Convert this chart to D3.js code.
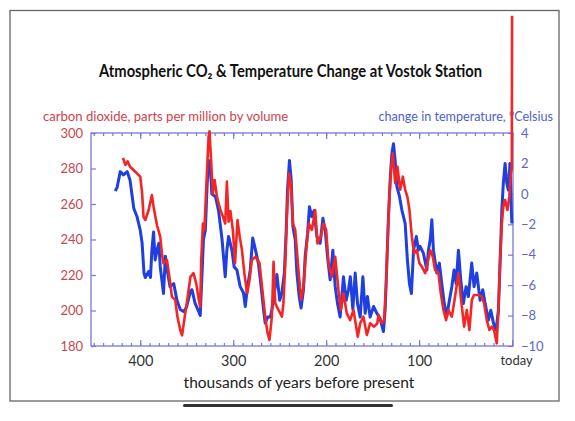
<!DOCTYPE html>
<html>
<head>
<meta charset="utf-8">
<script src="https://cdn.jsdelivr.net/npm/d3@7"></script>
<style>
  body { margin: 0; background: #fff; }
  svg { display: block; }
</style>
</head>
<body>
<script>
// thousands of years before present, CO2 in ppmv
const co2Age = [418.6,416,413.6,411,405,400,398,396.5,394.6,391,387.5,385.7,382,378.5,376.7,375,371.3,367.7,366,362.4,360,357,355,352.7,350,346,342.7,339.8,337,335.5,334.4,332.6,331,328.3,326.5,325.5,324,322,320,317.5,313.8,311,308.6,306.8,305,303,300.4,298,295.4,293,290.6,288,285,282.5,280,276,271.7,269,265.6,263,261,258.4,256.6,254.8,251.3,247.6,246,244,242.3,240,238,235.8,233.3,229.8,227,224.4,221.5,218.6,215.4,211.8,209.4,205.7,203,200,197.5,193.9,190.3,186.8,184.2,181.4,177.8,174.2,170.6,166,163.4,159.9,156.2,152.7,148.4,145,143.7,140,137.6,135.5,134,132,130,128.3,125.8,123.3,120.4,117.5,115,112.6,110.4,107.8,105.4,102.5,99.7,97,93.5,91,88,85.3,82.8,79.2,76.7,73.8,71,68.5,64.8,61.3,57.7,55.2,51.6,48.7,45.9,43.3,40.9,36.2,32.6,30.1,27.2,24.4,21.8,19.4,16.5,14.7,12.9,11,9.4,7.5,5,2.9,1.4,0.7,0.3,0];
const co2Ppm = [286,282,284,281,278,275.4,266,252.8,251,256.6,265,258.5,248,241.6,232,226.6,228.5,215.3,207.8,206,196.5,189,186,194.6,204,219,221,215.3,206,202,228.5,249,245.4,277.3,298,301,286.6,266,273.5,264,256.6,252.8,249,272.6,250,256,245.4,226.6,251,241.6,234,221,209.7,217,228.5,230.3,226.6,213.4,196.5,187.2,183.4,196.5,227.5,204,200.3,196.5,204,226.6,252.8,277.3,271.7,249,245.4,222.8,206,213.4,234,249,245.4,256.6,237.8,241.6,249,245.4,226.6,219,230.3,211.6,200.3,209.7,198.4,194.6,200.3,185.2,192.8,196.5,186.2,192.8,190.9,192.8,197.5,192.8,194.6,215.3,237.9,264,281,288.6,271.7,281,268,275.4,268,264,256.6,241.6,232.2,234,226.6,224.7,221,226.6,234,230.3,222.8,221,209.7,200.3,194.6,200.3,196.5,207.8,221,207.8,190.9,200.3,189,206,208.7,208.7,207.8,204,194.6,189,190.9,189,181.5,200.3,228.5,249,258.5,262.3,256.6,264,277.3,279,280,366];

// thousands of years before present, temperature change in degrees C
const tempAge = [427,425,421.5,418,414,411,407,403.5,400,398,396,394.6,391,389,387.5,385.7,384,382,380,378.5,375,373,371,368,364,360.5,357,353,350,346,344.4,341,337,335.5,333.7,332,330,328,326.5,324.7,323,319,315.8,312,308.6,306.8,305,301.4,299,296,292.5,289,287,285,281.7,279,276,272.8,270,267.4,265.6,263,260,258.4,254.8,253,250,247.6,245,243,241.6,239.5,237.6,235.8,233.3,231.5,229,227,224.4,222.6,220,218,215.4,213,210,206.5,203.5,201,198.6,195.7,192.8,190.3,187.8,185,181.4,178.5,176,174,171.3,168.8,166.3,163.4,160.5,158,155.6,152.7,149,145.5,142,138.4,136.5,134.7,133,131,129.4,127.6,125.8,124,121,118.6,115,112.6,110.4,108.3,106,103,100.8,99,95.4,91.7,90,88,86.3,84.6,81,78.2,75.6,73,70.2,67.4,64.8,62.4,60.2,57.7,55.2,52.4,49.5,47,43.4,40.9,38,34.4,31.5,29,25.5,22.9,20,17.2,14.7,12.9,11,9.4,7.5,5.7,4,2.2,0.8,0.2];
const tempC = [0.19,0.4,1.46,1.25,1.46,0.9,-0.95,-1.5,-2.4,-3.25,-5.2,-5.5,-5.1,-5.5,-3.7,-2.5,-4.35,-3.7,-3.25,-4.8,-6.55,-4.1,-5.0,-6.1,-5.9,-7.0,-7.6,-7.75,-7.4,-6.4,-6.3,-7.2,-7.75,-8.0,-5.45,-3.0,-2.4,0.7,2.2,1.8,0.0,-0.2,-1.1,-3.0,-5.45,-3.7,-2.8,-3.7,-4.8,-5.0,-6.1,-6.5,-7.4,-6.3,-5.0,-2.9,-3.7,-4.6,-6.1,-7.6,-8.5,-8.1,-8.1,-7.6,-6.1,-5.3,-7.0,-6.5,-5.2,-2.4,0.25,2.2,0.9,-2.15,-3.0,-5.2,-6.75,-7.5,-6.3,-4.1,-2.6,-0.85,-1.5,-1.1,-2.8,-3.25,-1.6,-2.4,-4.1,-5.65,-3.7,-6.1,-7.2,-8.1,-5.45,-7.0,-6.3,-5.45,-7.6,-5.2,-7.2,-8.1,-5.45,-7.85,-6.75,-8.1,-7.4,-7.85,-8.2,-9.05,-7.6,-4.55,-1.5,1.1,2.6,3.3,2.2,0.5,-0.2,-1.05,-1.95,-4.35,-5.9,-6.55,-3.7,-2.8,-3.7,-3.45,-3.9,-5.0,-3.7,-3.0,-1.7,-3.7,-5.2,-4.55,-5.9,-7.2,-8.05,-7.0,-6.1,-5.0,-5.9,-3.7,-5.65,-7.2,-6.1,-6.75,-4.55,-6.1,-5.2,-7.0,-6.3,-7.2,-8.3,-7.65,-8.5,-8.95,-7.65,-4.55,-1.05,0.7,2.0,0.7,0.25,2.0,-1.05,-1.95];

const co2Ticks = [180, 200, 220, 240, 260, 280, 300];
const tempTicks = [-10, -8, -6, -4, -2, 0, 2, 4];
const ageLabels = [400, 300, 200, 100, 0];

const width = 575, height = 421;
const margin = {top: 133, right: 62, bottom: 75, left: 91};

const svg = d3.select("body").append("svg")
    .attr("width", width)
    .attr("height", height);

// outer frame
svg.append("rect")
    .attr("x", 10).attr("y", 10.5)
    .attr("width", 549).attr("height", 390.5)
    .attr("fill", "#fff")
    .attr("stroke", "#666")
    .attr("stroke-width", 1.3);

svg.append("rect")
    .attr("x", 183).attr("y", 404)
    .attr("width", 210).attr("height", 3)
    .attr("rx", 1.5)
    .attr("fill", "#333");

const x = d3.scaleLinear([453, -1], [margin.left, width - margin.right]);
const yCo2 = d3.scaleLinear([180, 300], [height - margin.bottom, margin.top]);
const yTemp = d3.scaleLinear([-10, 4], [height - margin.bottom, margin.top]);

const axisColor = "#7878dc";

// title (squeezed to look like a condensed face)
svg.append("text")
    .attr("x", 290.5)
    .attr("y", 77)
    .attr("text-anchor", "middle")
    .attr("font-family", "Lato, sans-serif")
    .attr("font-weight", "bold")
    .attr("font-size", 16.5)
    .attr("textLength", 383)
    .attr("lengthAdjust", "spacingAndGlyphs")
    .attr("fill", "#111")
    .text("Atmospheric CO₂ & Temperature Change at Vostok Station");

svg.append("text")
    .attr("x", 43).attr("y", 121)
    .attr("font-family", "Lato, sans-serif")
    .attr("font-size", 13.1)
    .attr("fill", "#d2414c")
    .text("carbon dioxide, parts per million by volume");

svg.append("text")
    .attr("x", 553).attr("y", 121)
    .attr("text-anchor", "end")
    .attr("font-family", "Lato, sans-serif")
    .attr("font-size", 12.6)
    .attr("fill", "#4e5fcf")
    .text("change in temperature, °Celsius");

// axes
const plotH = height - margin.bottom - margin.top;
const styleAxis = g => {
  g.select(".domain").remove();
  g.selectAll(".tick line").attr("stroke", axisColor).attr("stroke-width", 1.2);
};

svg.append("g")
    .attr("transform", `translate(0,${height - margin.bottom})`)
    .call(d3.axisBottom(x).tickValues(d3.range(0, 451, 10)).tickSize(-3).tickFormat(""))
    .call(styleAxis);

svg.append("g")
    .attr("transform", `translate(0,${margin.top})`)
    .call(d3.axisTop(x).tickValues(d3.range(0, 451, 10)).tickSize(-3).tickFormat(""))
    .call(styleAxis);

svg.append("g")
    .attr("transform", `translate(0,${margin.top})`)
    .call(d3.axisTop(x).tickValues(ageLabels).tickSize(-6).tickFormat(""))
    .call(styleAxis);

svg.append("g")
    .attr("transform", `translate(0,${height - margin.bottom})`)
    .call(d3.axisBottom(x).tickValues(ageLabels).tickSize(-6).tickPadding(10)
      .tickFormat(d => d === 0 ? "today" : d))
    .call(styleAxis)
    .call(g => g.selectAll(".tick text")
      .attr("font-family", "Lato, sans-serif")
      .attr("font-size", d => d === 0 ? 13 : 14.5)
      .attr("fill", "#333")
      .attr("dx", d => d === 0 ? 4 : 0));

svg.append("g")
    .attr("transform", `translate(${margin.left},0)`)
    .call(d3.axisLeft(yCo2).tickValues(co2Ticks).tickSize(-5).tickPadding(8))
    .call(styleAxis)
    .call(g => g.selectAll(".tick text")
      .attr("font-family", "Lato, sans-serif")
      .attr("font-size", 13)
      .attr("fill", "#c8464f"));

svg.append("g")
    .attr("transform", `translate(${width - margin.right},0)`)
    .call(d3.axisRight(yTemp).tickValues(tempTicks).tickSize(-5).tickPadding(8))
    .call(styleAxis)
    .call(g => g.selectAll(".tick text")
      .attr("font-family", "Lato, sans-serif")
      .attr("font-size", 13)
      .attr("fill", "#5b67cc"));

// plot box
svg.append("rect")
    .attr("x", margin.left).attr("y", margin.top)
    .attr("width", width - margin.right - margin.left)
    .attr("height", plotH)
    .attr("fill", "none")
    .attr("stroke", axisColor)
    .attr("stroke-width", 1.3);

// series
svg.append("path")
    .datum(d3.zip(tempAge, tempC))
    .attr("fill", "none")
    .attr("stroke", "#1f3fe0")
    .attr("stroke-width", 3)
    .attr("stroke-linejoin", "round")
    .attr("d", d3.line().x(d => x(d[0])).y(d => yTemp(d[1])));

svg.append("path")
    .datum(d3.zip(co2Age, co2Ppm))
    .attr("fill", "none")
    .attr("stroke", "#f42525")
    .attr("stroke-width", 2.6)
    .attr("stroke-linejoin", "round")
    .attr("d", d3.line().x(d => x(d[0])).y(d => yCo2(d[1])));

svg.append("text")
    .attr("x", 299).attr("y", 388)
    .attr("text-anchor", "middle")
    .attr("font-family", "Lato, sans-serif")
    .attr("font-size", 15.5)
    .attr("fill", "#222")
    .text("thousands of years before present");
</script>
</body>
</html>
